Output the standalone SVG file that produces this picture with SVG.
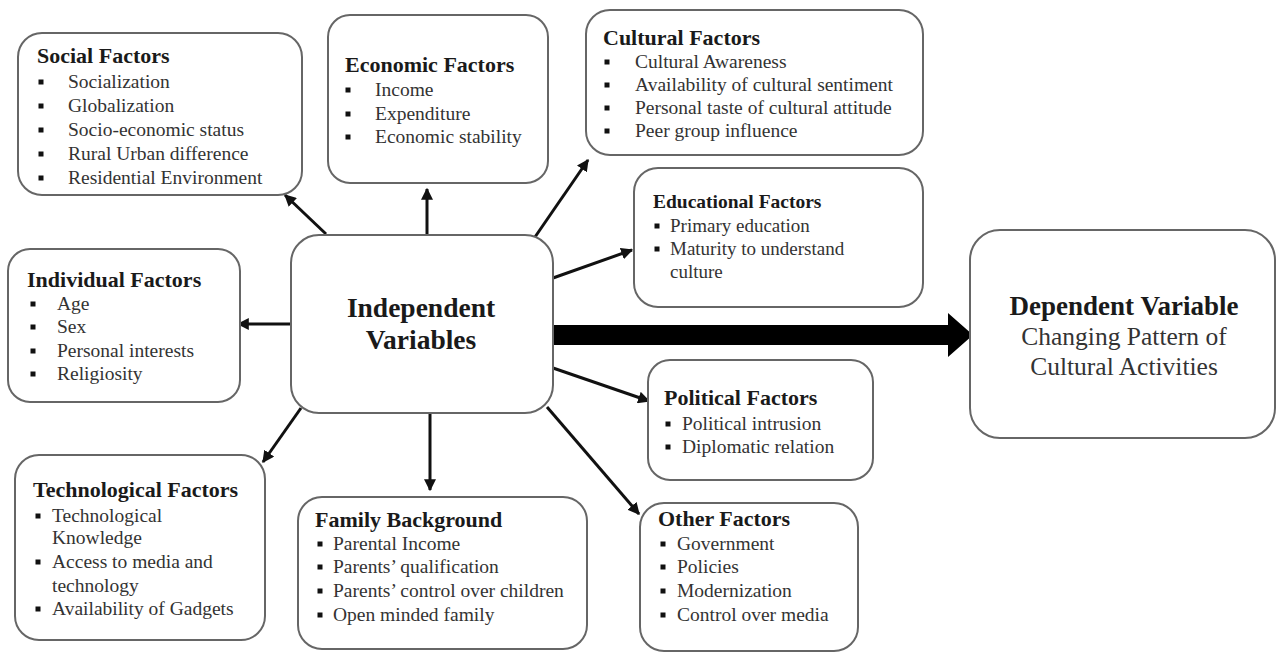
<svg xmlns="http://www.w3.org/2000/svg" xmlns:xlink="http://www.w3.org/1999/xlink" width="1277" height="654" viewBox="0 0 1277 654">
<style>
.box{fill:#fff;stroke:#666;stroke-width:2}
.t{font-family:"Liberation Serif","Times New Roman",serif;font-weight:bold;font-size:22px;fill:#1a1a1a}
.i{font-family:"Liberation Serif","Times New Roman",serif;font-size:19.5px;fill:#333}
.c{font-family:"Liberation Serif","Times New Roman",serif;text-anchor:middle;fill:#1a1a1a}
.ln{stroke:#111;stroke-width:3;fill:none;marker-end:url(#ah)}
</style>
<defs>
<marker id="ah" viewBox="0 0 10 10" refX="9" refY="5" markerWidth="4" markerHeight="4" orient="auto" markerUnits="strokeWidth">
<path d="M0,0 L10,5 L0,10 z" fill="#111"/>
</marker>
<rect id="b" x="-2.5" y="-2.5" width="5" height="5" fill="#111"/>
</defs>
<rect width="1277" height="654" fill="#fff"/>

<g id="connectors">
<line class="ln" x1="326" y1="234" x2="285" y2="195"/>
<line class="ln" x1="427" y1="234" x2="427" y2="189"/>
<line class="ln" x1="535" y1="237" x2="588" y2="160"/>
<line class="ln" x1="553" y1="278" x2="632" y2="250"/>
<line class="ln" x1="291" y1="324" x2="238" y2="324"/>
<line class="ln" x1="553" y1="368" x2="649" y2="401"/>
<line class="ln" x1="547" y1="407" x2="639" y2="514"/>
<line class="ln" x1="430" y1="413" x2="430" y2="490"/>
<line class="ln" x1="301" y1="408" x2="263" y2="462"/>
<polygon points="553,325 948,325 948,313 973,335 948,357 948,345 553,345" fill="#000"/>
</g>

<g id="social">
<rect class="box" x="18" y="33" width="284" height="162" rx="24"/>
<text class="t" x="37" y="63">Social Factors</text>
<use xlink:href="#b" x="41" y="82"/><text class="i" x="68" y="88">Socialization</text>
<use xlink:href="#b" x="41" y="106"/><text class="i" x="68" y="112">Globalization</text>
<use xlink:href="#b" x="41" y="130"/><text class="i" x="68" y="136">Socio-economic status</text>
<use xlink:href="#b" x="41" y="154"/><text class="i" x="68" y="160">Rural Urban difference</text>
<use xlink:href="#b" x="41" y="178"/><text class="i" x="68" y="184">Residential Environment</text>
</g>

<g id="economic">
<rect class="box" x="328" y="15" width="220" height="168" rx="22"/>
<text class="t" x="345" y="72">Economic Factors</text>
<use xlink:href="#b" x="348" y="90"/><text class="i" x="375" y="96">Income</text>
<use xlink:href="#b" x="348" y="114"/><text class="i" x="375" y="120">Expenditure</text>
<use xlink:href="#b" x="348" y="137"/><text class="i" x="375" y="143">Economic stability</text>
</g>

<g id="cultural">
<rect class="box" x="586" y="10" width="337" height="145" rx="24"/>
<text class="t" x="603" y="45">Cultural Factors</text>
<use xlink:href="#b" x="607" y="62"/><text class="i" x="635" y="68">Cultural Awareness</text>
<use xlink:href="#b" x="607" y="85"/><text class="i" x="635" y="91">Availability of cultural sentiment</text>
<use xlink:href="#b" x="607" y="108"/><text class="i" x="635" y="114">Personal taste of cultural attitude</text>
<use xlink:href="#b" x="607" y="131"/><text class="i" x="635" y="137">Peer group influence</text>
</g>

<g id="educational">
<rect class="box" x="634" y="168" width="289" height="139" rx="24"/>
<text class="t" x="653" y="208" style="font-size:19.5px">Educational Factors</text>
<use xlink:href="#b" x="657" y="226"/><text class="i" x="670" y="232" style="font-size:19px">Primary education</text>
<use xlink:href="#b" x="657" y="249"/><text class="i" x="670" y="255" style="font-size:19px">Maturity to understand</text>
<text class="i" x="670" y="278" style="font-size:19px">culture</text>
</g>

<g id="individual">
<rect class="box" x="8" y="249" width="232" height="153" rx="22"/>
<text class="t" x="27" y="287">Individual Factors</text>
<use xlink:href="#b" x="33" y="304"/><text class="i" x="57" y="310">Age</text>
<use xlink:href="#b" x="33" y="327"/><text class="i" x="57" y="333">Sex</text>
<use xlink:href="#b" x="33" y="351"/><text class="i" x="57" y="357">Personal interests</text>
<use xlink:href="#b" x="33" y="374"/><text class="i" x="57" y="380">Religiosity</text>
</g>

<g id="independent">
<rect class="box" x="291" y="235" width="262" height="178" rx="28"/>
<text class="c" x="421" y="317" style="font-size:27.5px;font-weight:bold">Independent</text>
<text class="c" x="421" y="349" style="font-size:27.5px;font-weight:bold">Variables</text>
</g>

<g id="dependent">
<rect class="box" x="970" y="230" width="305" height="208" rx="30"/>
<text class="c" x="1124" y="315" style="font-size:27px;font-weight:bold">Dependent Variable</text>
<text class="c" x="1124" y="345" style="font-size:25.5px;fill:#333">Changing Pattern of</text>
<text class="c" x="1124" y="375" style="font-size:25.5px;fill:#333">Cultural Activities</text>
</g>

<g id="political">
<rect class="box" x="648" y="360" width="225" height="120" rx="22"/>
<text class="t" x="664" y="405">Political Factors</text>
<use xlink:href="#b" x="668" y="424"/><text class="i" x="682" y="430">Political intrusion</text>
<use xlink:href="#b" x="668" y="447"/><text class="i" x="682" y="453">Diplomatic relation</text>
</g>

<g id="technological">
<rect class="box" x="15" y="455" width="250" height="185" rx="24"/>
<text class="t" x="33" y="497">Technological Factors</text>
<use xlink:href="#b" x="38" y="516"/><text class="i" x="52" y="522">Technological</text>
<text class="i" x="52" y="544">Knowledge</text>
<use xlink:href="#b" x="38" y="562"/><text class="i" x="52" y="568">Access to media and</text>
<text class="i" x="52" y="592">technology</text>
<use xlink:href="#b" x="38" y="609"/><text class="i" x="52" y="615">Availability of Gadgets</text>
</g>

<g id="family">
<rect class="box" x="298" y="497" width="289" height="152" rx="24"/>
<text class="t" x="315" y="527">Family Background</text>
<use xlink:href="#b" x="320" y="544"/><text class="i" x="333" y="550">Parental Income</text>
<use xlink:href="#b" x="320" y="567"/><text class="i" x="333" y="573">Parents’ qualification</text>
<use xlink:href="#b" x="320" y="591"/><text class="i" x="333" y="597">Parents’ control over children</text>
<use xlink:href="#b" x="320" y="615"/><text class="i" x="333" y="621">Open minded family</text>
</g>

<g id="other">
<rect class="box" x="640" y="503" width="218" height="148" rx="24"/>
<text class="t" x="658" y="526">Other Factors</text>
<use xlink:href="#b" x="663" y="544"/><text class="i" x="677" y="550">Government</text>
<use xlink:href="#b" x="663" y="567"/><text class="i" x="677" y="573">Policies</text>
<use xlink:href="#b" x="663" y="591"/><text class="i" x="677" y="597">Modernization</text>
<use xlink:href="#b" x="663" y="615"/><text class="i" x="677" y="621">Control over media</text>
</g>
</svg>
